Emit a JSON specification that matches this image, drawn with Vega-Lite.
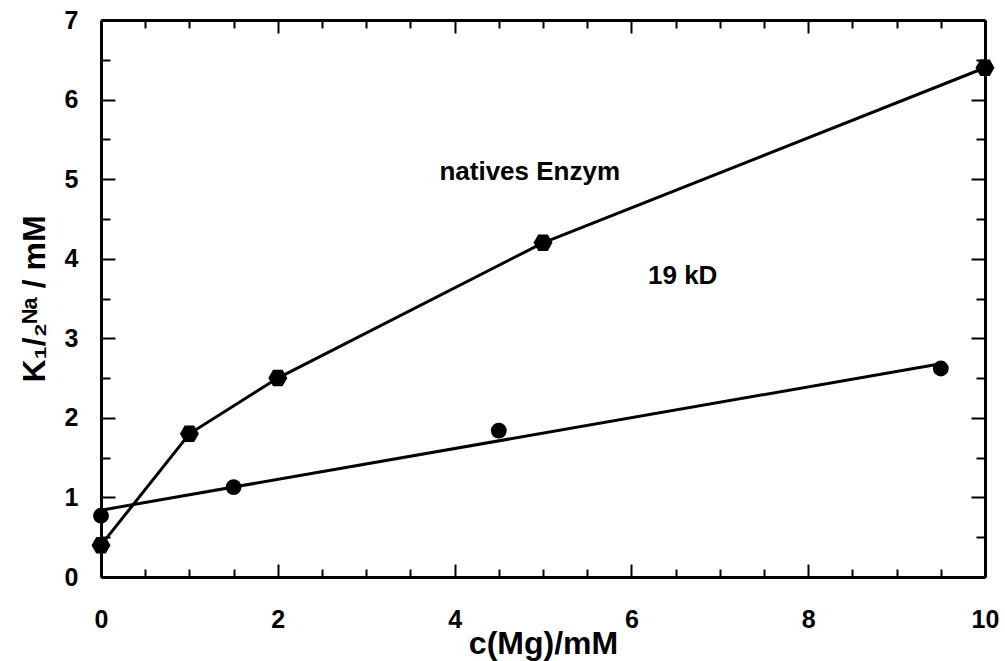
{
  "$schema": "https://vega.github.io/schema/vega-lite/v6.json",
  "width": 884,
  "height": 557,
  "autosize": {"type": "none"},
  "padding": {"left": 101, "top": 20, "right": 20, "bottom": 84},
  "background": "white",
  "config": {"view": {"stroke": null}, "font": "Liberation Sans"},
  "datasets": {
    "native": [
      {"x": 0, "y": 0.4},
      {"x": 1, "y": 1.8},
      {"x": 2, "y": 2.5},
      {"x": 5, "y": 4.2},
      {"x": 10, "y": 6.4}
    ],
    "kd19": [
      {"x": 0, "y": 0.77},
      {"x": 1.5, "y": 1.13},
      {"x": 4.5, "y": 1.84},
      {"x": 9.5, "y": 2.62}
    ],
    "fit19": [
      {"x": 0, "y": 0.84},
      {"x": 9.5, "y": 2.68}
    ],
    "labels": [
      {"x": 4.85, "y": 5.09, "text": "natives Enzym"},
      {"x": 6.58, "y": 3.78, "text": "19 kD"}
    ]
  },
  "layer": [
    {
      "encoding": {
        "x": {
          "field": "x", "type": "quantitative",
          "scale": {"domain": [0, 10], "nice": false, "zero": false},
          "axis": {
            "orient": "bottom",
            "values": [0, 0.5, 1, 1.5, 2, 2.5, 3, 3.5, 4, 4.5, 5, 5.5, 6, 6.5, 7, 7.5, 8, 8.5, 9, 9.5, 10],
            "format": ".0f",
            "labelExpr": "datum.value % 2 === 0 ? datum.label : ''",
            "tickSize": {"condition": {"test": "datum.value % 2 === 0", "value": -13}, "value": -8},
            "tickWidth": 2, "tickColor": "black",
            "domainWidth": 3, "domainColor": "black",
            "grid": false,
            "labelFont": "Liberation Sans", "labelFontWeight": "bold", "labelFontSize": 25, "labelColor": "black",
            "labelPadding": 43, "labelFlush": false, "labelOverlap": false,
            "title": "c(Mg)/mM",
            "titleFont": "Liberation Sans", "titleFontWeight": "bold", "titleFontSize": 32, "titleColor": "black",
            "titlePadding": -9
          }
        },
        "y": {
          "field": "y", "type": "quantitative",
          "scale": {"domain": [0, 7], "nice": false, "zero": false},
          "axis": {
            "orient": "left",
            "values": [0, 0.5, 1, 1.5, 2, 2.5, 3, 3.5, 4, 4.5, 5, 5.5, 6, 6.5, 7],
            "format": ".0f",
            "labelExpr": "datum.value % 1 === 0 ? datum.label : ''",
            "tickSize": {"condition": {"test": "datum.value % 1 === 0", "value": -14}, "value": -9},
            "tickWidth": 2, "tickColor": "black",
            "domainWidth": 3, "domainColor": "black",
            "grid": false,
            "labelFont": "Liberation Sans", "labelFontWeight": "bold", "labelFontSize": 25, "labelColor": "black",
            "labelPadding": 37, "labelFlush": false, "labelOverlap": false,
            "title": "K₁/₂ᴺᵃ / mM",
            "titleFont": "Liberation Sans", "titleFontWeight": "bold", "titleFontSize": 32, "titleColor": "black",
            "titlePadding": 13
          }
        }
      },
      "layer": [
        {"data": {"name": "native"}, "mark": {"type": "line", "color": "black", "strokeWidth": 3}},
        {"data": {"name": "fit19"}, "mark": {"type": "line", "color": "black", "strokeWidth": 3}},
        {"data": {"name": "native"}, "mark": {"type": "point", "shape": "M-1,0L-0.5,-0.866L0.5,-0.866L1,0L0.5,0.866L-0.5,0.866Z", "filled": true, "color": "black", "opacity": 1, "size": 361}},
        {"data": {"name": "kd19"}, "mark": {"type": "point", "shape": "circle", "filled": true, "color": "black", "opacity": 1, "size": 250}},
        {"data": {"name": "labels"}, "mark": {"type": "text", "font": "Liberation Sans", "fontWeight": "bold", "fontSize": 26, "color": "black", "align": "center", "baseline": "middle"}, "encoding": {"text": {"field": "text"}}}
      ]
    },
    {
      "data": {"name": "native"},
      "mark": {"type": "point", "opacity": 0},
      "encoding": {
        "x": {
          "field": "x", "type": "quantitative",
          "scale": {"domain": [0, 10], "nice": false, "zero": false},
          "axis": {
            "orient": "top",
            "values": [0, 0.5, 1, 1.5, 2, 2.5, 3, 3.5, 4, 4.5, 5, 5.5, 6, 6.5, 7, 7.5, 8, 8.5, 9, 9.5, 10],
            "labels": false,
            "tickSize": {"condition": {"test": "datum.value % 2 === 0", "value": -13}, "value": -8},
            "tickWidth": 2, "tickColor": "black",
            "domainWidth": 3, "domainColor": "black",
            "grid": false, "title": null
          }
        },
        "y": {
          "field": "y", "type": "quantitative",
          "scale": {"domain": [0, 7], "nice": false, "zero": false},
          "axis": {
            "orient": "right",
            "values": [0, 0.5, 1, 1.5, 2, 2.5, 3, 3.5, 4, 4.5, 5, 5.5, 6, 6.5, 7],
            "labels": false,
            "tickSize": {"condition": {"test": "datum.value % 1 === 0", "value": -14}, "value": -9},
            "tickWidth": 2, "tickColor": "black",
            "domainWidth": 3, "domainColor": "black",
            "grid": false, "title": null
          }
        }
      }
    }
  ],
  "resolve": {"axis": {"x": "independent", "y": "independent"}}
}
